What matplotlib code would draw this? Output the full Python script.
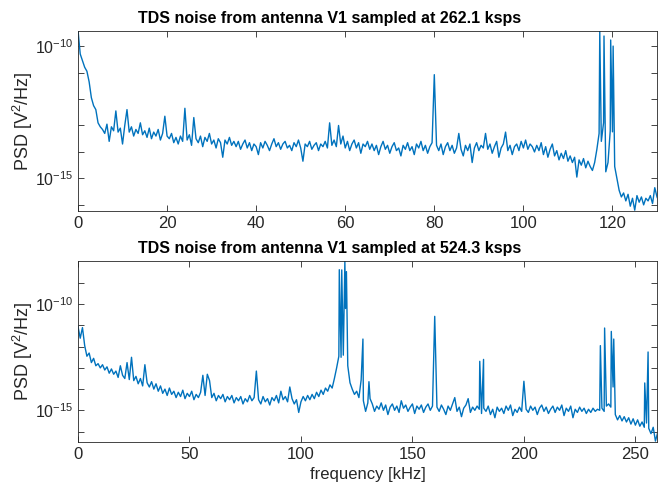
"""
Two-panel PSD of the TDS antenna noise (V1), at the two sampling rates.

    python plot.py

Writes out.png. Values are log10(PSD) read off the original figure; the
floor is given per FFT bin, the narrow lines are listed separately.
"""

import matplotlib

matplotlib.use("Agg")
import matplotlib.pyplot as plt
import numpy as np
from matplotlib.ticker import FixedLocator, FuncFormatter, NullLocator

MATLAB_BLUE = "#0072BD"
AX_GREY = "#262626"

# -- 262.1 ksps: floor, one value per 0.5 kHz bin starting at 0 kHz ----------
TOP_BIN_KHZ = 0.5
top_floor_log = [
    -9.40, -10.30, -10.55, -10.80, -10.95, -11.35, -11.95, -12.25, -12.40, -12.90,
    -13.05, -13.15, -13.30, -12.95, -13.60, -13.05, -13.20, -12.45, -13.25, -13.10,
    -13.70, -13.00, -12.40, -13.25, -13.05, -13.40, -13.15, -13.30, -12.90, -13.35,
    -13.20, -13.45, -13.10, -13.50, -13.25, -13.40, -13.15, -13.55, -13.30, -12.65,
    -13.40, -13.50, -13.30, -13.65, -13.45, -13.70, -13.40, -13.60, -12.35, -13.55,
    -13.35, -13.75, -12.70, -13.50, -13.65, -13.40, -13.80, -13.45, -13.60, -13.30,
    -13.70, -13.55, -13.85, -13.50, -13.65, -14.20, -13.55, -13.70, -13.45, -13.75,
    -13.60, -13.80, -13.60, -13.90, -13.70, -13.55, -13.85, -13.65, -13.95, -13.70,
    -13.80, -14.10, -13.65, -13.85, -13.60, -13.75, -13.95, -13.70, -13.50, -13.80,
    -13.65, -13.90, -13.70, -13.60, -13.85, -13.75, -13.95, -13.65, -13.80, -13.55,
    -13.85, -14.35, -13.70, -13.80, -13.60, -13.90, -13.75, -13.65, -13.95, -13.70,
    -13.80, -13.60, -13.85, -12.90, -13.75, -13.55, -13.80, -13.00, -13.70, -13.40,
    -13.85, -13.60, -13.95, -13.70, -13.55, -13.85, -13.65, -14.05, -13.70, -13.80,
    -13.60, -13.90, -13.70, -13.95, -13.75, -14.10, -13.80, -13.60, -13.90, -13.75,
    -14.05, -13.80, -13.65, -13.95, -13.85, -14.15, -13.75, -13.90, -13.65, -13.95,
    -13.80, -14.10, -13.70, -13.85, -13.60, -13.95, -13.75, -14.05, -13.80, -13.65,
    -11.08, -13.75, -13.95, -13.70, -14.10, -13.80, -13.65, -13.95, -13.75, -14.05,
    -13.85, -13.30, -13.90, -14.15, -13.75, -13.95, -13.70, -14.40, -13.85, -13.65,
    -13.95, -13.75, -13.85, -13.30, -13.90, -13.70, -14.05, -13.80, -13.60, -14.20,
    -13.85, -13.70, -13.25, -13.95, -13.75, -14.10, -13.80, -13.70, -13.95, -13.60,
    -13.85, -13.55, -13.90, -13.70, -13.80, -14.00, -13.75, -13.95, -13.65, -14.10,
    -13.80, -14.20, -13.90, -13.70, -14.15, -13.95, -14.30, -14.05, -14.25, -13.95,
    -14.35, -14.15, -14.40, -14.20, -14.95, -14.30, -14.50, -14.25, -14.60, -14.35,
    -14.55, -14.70, -14.40, -13.90, -13.30, -13.60, -12.90, -14.75, -14.40, -13.20,
    -13.24, -14.55, -15.00, -15.45, -15.70, -15.55, -15.85, -15.60, -16.05, -15.75,
    -16.20, -15.65, -15.90, -15.70, -16.00, -15.75, -15.85, -15.65, -15.95, -15.35,
    -15.70, -15.90,
]
top_lines_khz = [117.15, 118.1, 119.6, 120.15]
top_lines_log = [-9.43, -9.62, -9.77, -10.0]

# -- 524.3 ksps: floor, one value per 1 kHz bin starting at 0 kHz ------------
BOT_BIN_KHZ = 1.0
bot_floor_log = [
    -11.05, -11.60, -11.10, -11.95, -12.45, -12.30, -12.75, -12.55, -12.90, -12.80,
    -13.00, -12.85, -13.10, -12.95, -13.25, -13.05, -13.30, -13.15, -13.45, -12.90,
    -13.35, -13.50, -12.75, -13.55, -12.50, -13.60, -13.40, -13.75, -13.50, -13.85,
    -12.85, -13.70, -13.90, -13.65, -14.00, -13.75, -14.10, -13.85, -14.20, -14.00,
    -14.30, -13.95, -14.25, -14.10, -14.40, -14.15, -14.35, -14.05, -14.45, -14.20,
    -14.35, -14.10, -14.50, -14.25, -14.40, -14.15, -13.35, -14.30, -13.30, -13.60,
    -14.40, -14.20, -14.55, -14.30, -14.45, -14.25, -14.60, -14.35, -14.50, -14.30,
    -14.65, -14.40, -14.55, -14.35, -14.70, -14.45, -14.60, -14.30, -14.55, -14.40,
    -13.15, -14.50, -14.70, -14.35, -14.60, -14.45, -14.75, -14.40, -14.55, -14.30,
    -14.65, -14.10, -14.50, -14.35, -14.60, -13.90, -14.45, -14.70, -14.50, -15.10,
    -14.60, -14.35, -14.55, -14.30, -14.50, -14.25, -14.45, -14.15, -14.35, -14.05,
    -14.25, -13.95, -14.10, -13.80, -13.95, -13.50, -13.00, -12.45, -12.50, -12.40,
    -10.20, -12.90, -13.70, -14.00, -14.25, -14.10, -14.40, -13.57, -14.55, -15.05,
    -14.65, -14.45, -14.70, -15.05, -14.80, -14.95, -14.65, -15.00, -14.75, -15.20,
    -14.85, -14.70, -15.00, -14.80, -15.10, -14.55, -14.90, -14.75, -15.05, -14.85,
    -14.70, -15.15, -14.80, -14.95, -14.75, -15.10, -14.85, -14.70, -15.00, -14.80,
    -10.57, -14.85, -15.05, -14.75, -14.95, -15.20, -14.80, -15.00, -14.70, -14.40,
    -15.05, -14.85, -15.30, -14.90, -14.75, -14.45, -15.10, -14.85, -15.00, -14.80,
    -14.95, -15.15, -14.90, -15.05, -14.80, -15.20, -14.95, -15.35, -14.85, -15.05,
    -14.90, -15.15, -14.80, -15.00, -14.75, -15.25, -14.95, -15.10, -14.85, -15.05,
    -13.63, -14.95, -15.10, -14.80, -15.00, -14.85, -15.20, -14.90, -14.75, -15.05,
    -14.85, -15.15, -14.95, -14.80, -15.10, -14.85, -15.00, -14.75, -15.25, -14.90,
    -15.05, -14.80, -15.35, -14.95, -15.10, -14.85, -15.05, -14.90, -15.15, -14.95,
    -15.10, -14.90, -15.05, -14.95, -15.00, -14.90, -15.05, -14.80, -14.70, -14.85,
    -13.90, -15.20, -15.45, -15.25, -15.50, -15.30, -15.55, -15.35, -15.65, -15.40,
    -15.70, -15.45, -15.75, -15.55, -15.80, -15.60, -15.85, -16.10, -15.80, -16.45,
    -16.05, -16.30,
]
bot_lines_khz = [117.2, 118.3, 119.7, 120.4, 127.8, 130.5, 180.2, 181.9,
                 234.3, 236.2, 239.2, 240.3, 254.2, 255.7]
bot_lines_log = [-8.37, -8.38, -7.96, -8.46, -11.64, -13.65, -12.69, -12.60,
                 -11.95, -11.12, -11.28, -11.64, -13.71, -12.25]

TITLES = ["TDS noise from antenna V1 sampled at 262.1 ksps",
          "TDS noise from antenna V1 sampled at 524.3 ksps"]


def spectrum(floor_log, bin_khz, lines_khz, lines_log):
    f = np.concatenate([np.arange(len(floor_log)) * bin_khz, lines_khz])
    v = np.concatenate([floor_log, lines_log])
    order = np.argsort(f, kind="stable")
    return f[order], 10.0 ** v[order]


def decade_label(v, pos):
    e = int(round(np.log10(v)))
    return rf"$10^{{{e}}}$" if e in (-10, -15) else ""


def style(ax, xlim, ylog, xticks, decades):
    ax.set_xlim(*xlim)
    ax.set_ylim(10.0 ** ylog[0], 10.0 ** ylog[1])
    ax.xaxis.set_major_locator(FixedLocator(xticks))
    ax.yaxis.set_major_locator(FixedLocator([10.0 ** d for d in decades]))
    ax.yaxis.set_major_formatter(FuncFormatter(decade_label))
    ax.yaxis.set_minor_locator(NullLocator())
    ax.tick_params(which="both", direction="in", top=True, right=True,
                   length=4, width=0.6, color=AX_GREY, labelcolor=AX_GREY)
    ax.tick_params(axis="x", labelsize=12)
    ax.tick_params(axis="y", labelsize=11.5)
    for s in ax.spines.values():
        s.set_color(AX_GREY)
        s.set_linewidth(0.6)
    ax.set_ylabel(r"PSD [V$^2$/Hz]", fontsize=13, color=AX_GREY)
    ax.yaxis.set_label_coords(-0.074, 0.5)


def main():
    plt.rcParams["font.family"] = ["Liberation Sans", "DejaVu Sans"]
    plt.rcParams["mathtext.fontset"] = "custom"
    plt.rcParams["mathtext.rm"] = "Liberation Sans"
    plt.rcParams["mathtext.it"] = "Liberation Sans:italic"
    plt.rcParams["mathtext.bf"] = "Liberation Sans:bold"

    W, H = 665, 486
    fig = plt.figure(figsize=(W / 100, H / 100), dpi=100)
    ax_top = fig.add_axes([78 / W, 1 - 210.7 / H, 579 / W, 179.7 / H])
    ax_bot = fig.add_axes([78 / W, 1 - 441.7 / H, 579 / W, 180.7 / H])

    f, p = spectrum(top_floor_log, TOP_BIN_KHZ, top_lines_khz, top_lines_log)
    ax_top.semilogy(f, p, color=MATLAB_BLUE, lw=1.0)
    style(ax_top, (0, 130), (-16.22, -9.43), range(0, 121, 20), range(-16, -9))

    f, p = spectrum(bot_floor_log, BOT_BIN_KHZ, bot_lines_khz, bot_lines_log)
    ax_bot.semilogy(f, p, color=MATLAB_BLUE, lw=1.0)
    style(ax_bot, (0, 259.7), (-16.48, -7.96), range(0, 251, 50), range(-16, -8))
    ax_bot.set_xlabel("frequency [kHz]", fontsize=12, color=AX_GREY)

    for y, title in zip((18, 248), TITLES):
        fig.text(330 / W, 1 - y / H, title, ha="center", va="center",
                 fontsize=11.5, fontweight="bold")

    fig.savefig("out.png", dpi=100)


if __name__ == "__main__":
    main()
